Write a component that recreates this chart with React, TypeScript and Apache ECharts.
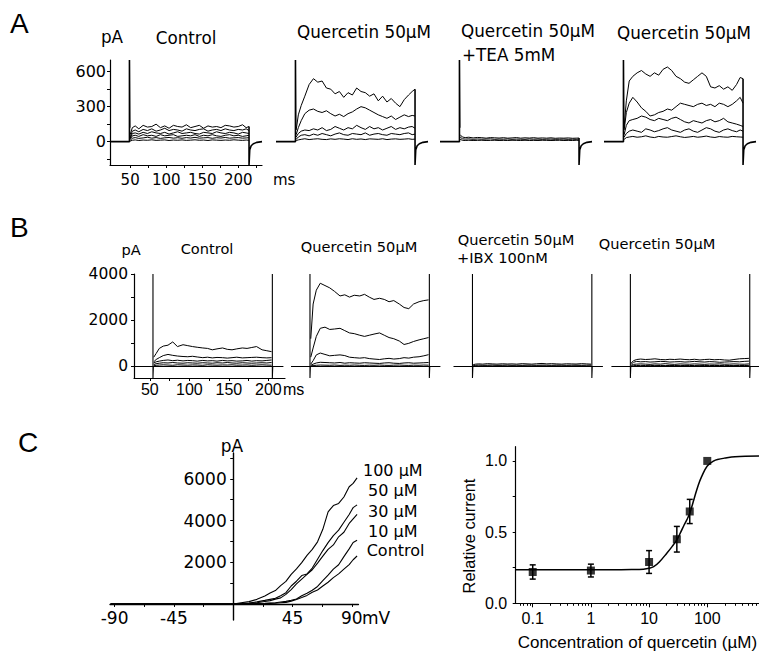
import React, { useEffect, useRef } from 'react';
import * as echarts from 'echarts';

// ---------- Panel A : currents (pA) vs time (ms) ----------
const TA = [50, 53, 57, 62, 68, 74, 80, 86, 92, 98, 104, 110, 116, 122, 128, 134, 140, 146, 152, 158, 164, 170, 176, 182, 188, 194, 200, 206, 211, 215];
const A_FRAME_T = [22, 49, 49, 49.5];
const A_FRAME_V = [0, 0, 700, 120];
const A_TAIL_T = [215, 216, 218, 221, 226, 233];
const A_TAIL_V = [-200, -70, -35, -18, -6, 0];

const A_CONTROL = [
  [60, 120, 135, 110, 140, 125, 130, 150, 120, 135, 115, 140, 130, 125, 145, 120, 130, 140, 115, 135, 125, 130, 120, 140, 135, 125, 130, 145, 120, 130],
  [40, 90, 100, 85, 105, 95, 110, 90, 100, 115, 95, 105, 100, 90, 110, 100, 95, 105, 110, 90, 100, 105, 95, 110, 100, 95, 105, 100, 110, 95],
  [30, 70, 75, 65, 80, 70, 85, 75, 70, 80, 65, 75, 85, 70, 75, 80, 70, 65, 80, 75, 70, 85, 75, 70, 80, 75, 65, 80, 75, 70],
  [20, 50, 55, 45, 60, 50, 55, 45, 60, 50, 55, 60, 45, 50, 55, 50, 60, 45, 55, 50, 60, 50, 45, 55, 60, 50, 55, 45, 50, 55],
  [10, 30, 35, 28, 32, 38, 30, 35, 28, 33, 36, 30, 34, 29, 35, 31, 37, 30, 33, 35, 29, 34, 31, 36, 30, 33, 35, 30, 32, 34],
  [5, 12, 15, 10, 14, 12, 16, 11, 13, 15, 10, 14, 12, 15, 11, 13, 16, 12, 14, 10, 15, 13, 11, 14, 12, 16, 13, 11, 14, 12],
];
const A_QUER_1 = [
  [100, 230, 310, 390, 490, 540, 510, 520, 460, 450, 410, 430, 380, 420, 400, 460, 430, 420, 390, 410, 350, 390, 340, 370, 330, 300, 360, 400, 430, 450],
  [60, 120, 180, 240, 270, 280, 260, 250, 265, 240, 220, 235, 215, 240, 255, 280, 300, 290, 270, 250, 230, 215, 200, 220, 190, 210, 230, 215, 225, 220],
  [40, 70, 90, 100, 95, 110, 100, 120, 95, 105, 130, 115, 100, 120, 110, 140, 120, 105, 130, 110, 120, 100, 115, 130, 105, 120, 110, 125, 130, 115],
  [20, 40, 55, 60, 50, 65, 55, 70, 60, 50, 65, 75, 60, 55, 70, 65, 60, 75, 55, 65, 70, 60, 55, 70, 65, 60, 70, 75, 60, 65],
  [10, 15, 20, 25, 18, 22, 25, 20, 18, 24, 20, 25, 22, 18, 25, 20, 23, 18, 24, 22, 20, 25, 18, 22, 24, 20, 22, 25, 20, 22],
];
const A_TEA = [
  [60, 40, 35, 38, 32, 36, 34, 30, 35, 33, 31, 34, 30, 32, 35, 30, 33, 31, 34, 30, 32, 30, 33, 29, 31, 30, 32, 29, 30, 31],
  [40, 25, 22, 24, 20, 23, 21, 22, 24, 20, 22, 21, 23, 20, 22, 21, 20, 23, 21, 22, 20, 21, 22, 20, 21, 22, 20, 21, 20, 22],
  [20, 12, 10, 12, 10, 11, 12, 10, 11, 12, 10, 11, 10, 12, 11, 10, 12, 10, 11, 10, 12, 11, 10, 11, 12, 10, 11, 10, 12, 11],
];
const A_QUER_2 = [
  [130, 350, 520, 560, 590, 610, 580, 560, 590, 570, 620, 640, 610, 560, 540, 510, 500, 530, 560, 590, 560, 470, 460, 480, 450, 470, 440, 490, 550, 540],
  [100, 250, 330, 380, 340, 290, 260, 220, 230, 250, 260, 280, 270, 300, 330, 320, 310, 300, 320, 330, 310, 320, 300, 330, 320, 300, 320, 350, 380, 330],
  [60, 140, 180, 190, 200, 220, 210, 190, 180, 200, 190, 180, 200, 210, 190, 170, 160, 180, 170, 160, 180, 190, 170, 180, 200, 170, 160, 150, 140, 130],
  [40, 70, 90, 100, 90, 80, 110, 100, 85, 95, 110, 120, 100, 90, 80, 100, 110, 90, 80, 100, 120, 110, 90, 80, 100, 110, 95, 85, 100, 90],
  [20, 35, 40, 45, 38, 42, 50, 40, 35, 45, 40, 38, 44, 50, 42, 36, 40, 45, 38, 42, 48, 40, 36, 44, 40, 38, 45, 42, 40, 38],
];
const A_X_LABELS = [50, 100, 150, 200];
const A_X_TICKS = [50, 75, 100, 125, 150, 175, 200, 225];
const A_Y_LABELS = [0, 300, 600];
const A_Y_TICKS = [-150, 0, 150, 300, 450, 600];

// ---------- Panel B ----------
const TB = [55, 58, 62, 67, 73, 79, 85, 92, 98, 104, 110, 117, 123, 129, 135, 142, 148, 154, 160, 167, 173, 179, 185, 192, 198, 204];
const B_FRAME_T = [30, 54, 54, 54, 54.5, 205, 205, 205, 205.5, 219];
const B_FRAME_V = [0, 0, 4000, -500, 0, 0, 4000, -500, 0, 0];
const B_CONTROL = [
  [400, 560, 780, 880, 920, 1060, 860, 940, 900, 860, 830, 800, 780, 720, 760, 800, 740, 720, 760, 800, 780, 820, 860, 720, 680, 640],
  [200, 300, 380, 470, 520, 480, 450, 430, 420, 440, 410, 380, 400, 370, 390, 380, 360, 380, 400, 370, 380, 390, 400, 380, 370, 380],
  [150, 200, 230, 260, 280, 250, 270, 240, 260, 250, 230, 260, 240, 250, 230, 260, 240, 250, 230, 240, 260, 230, 250, 240, 260, 280],
  [80, 120, 140, 160, 150, 170, 150, 140, 160, 150, 140, 160, 150, 140, 160, 150, 170, 150, 140, 160, 150, 140, 150, 160, 150, 170],
  [30, 50, 60, 70, 60, 50, 70, 60, 55, 65, 60, 50, 70, 60, 55, 65, 60, 70, 55, 60, 65, 50, 60, 70, 60, 55],
];
const B_QUER_1 = [
  [1200, 2700, 3300, 3600, 3500, 3400, 3250, 3050, 3100, 3000, 3080, 3050, 3120, 3000, 2900, 2950, 2900, 2800, 2850, 2700, 2550, 2500, 2700, 2800, 2850, 2880],
  [400, 800, 1300, 1650, 1700, 1600, 1620, 1650, 1550, 1450, 1420, 1350, 1300, 1350, 1400, 1450, 1350, 1250, 1200, 1100, 950, 1000, 1080, 1150, 1200, 1250],
  [100, 250, 500, 580, 520, 460, 480, 500, 470, 400, 380, 360, 380, 340, 320, 300, 330, 350, 320, 340, 380, 360, 400, 420, 460, 510],
  [50, 100, 150, 180, 170, 160, 150, 170, 140, 160, 150, 140, 160, 150, 140, 130, 150, 160, 140, 130, 150, 160, 140, 150, 160, 170],
  [20, 40, 50, 60, 55, 50, 60, 45, 55, 50, 60, 50, 45, 55, 50, 60, 50, 45, 55, 60, 50, 45, 55, 50, 60, 55],
];
const B_IBX = [
  [80, 100, 110, 100, 120, 110, 100, 115, 105, 110, 100, 120, 110, 100, 115, 130, 110, 120, 110, 100, 115, 110, 105, 120, 110, 100],
  [40, 50, 60, 50, 55, 60, 50, 55, 60, 50, 55, 50, 60, 55, 50, 60, 55, 50, 60, 55, 50, 55, 60, 50, 55, 60],
  [10, 20, 15, 20, 25, 15, 20, 25, 15, 20, 15, 25, 20, 15, 20, 25, 15, 20, 25, 15, 20, 15, 25, 20, 15, 20],
];
const B_QUER_2 = [
  [150, 250, 300, 320, 300, 310, 330, 300, 290, 310, 300, 320, 300, 290, 310, 280, 300, 310, 290, 300, 280, 270, 300, 330, 340, 350],
  [100, 180, 220, 200, 210, 190, 200, 220, 210, 190, 200, 210, 190, 200, 220, 200, 190, 210, 200, 180, 190, 200, 210, 200, 220, 230],
  [50, 90, 100, 110, 100, 90, 110, 100, 120, 100, 90, 110, 100, 95, 110, 100, 90, 105, 100, 110, 95, 100, 110, 100, 95, 110],
  [20, 35, 40, 45, 40, 35, 45, 40, 38, 42, 40, 45, 38, 40, 42, 45, 40, 38, 42, 40, 45, 40, 38, 42, 40, 45],
];
const B_X_LABELS = [50, 100, 150, 200];
const B_X_TICKS = [50, 75, 100, 125, 150, 175, 200];
const B_Y_LABELS = [0, 2000, 4000];
const B_Y_TICKS = [0, 1000, 2000, 3000, 4000];

// ---------- Panel C left : I-V curves ----------
const VC = [-93, -60, -30, 0, 6, 12, 18, 24, 28, 32, 36, 40, 44, 48, 52, 56, 60, 64, 68, 72, 76, 80, 84, 88, 91, 94];
const I_100 = [0, 10, -10, 0, 60, 110, 220, 380, 520, 640, 880, 1080, 1420, 1680, 1980, 2330, 2620, 2980, 3580, 4420, 4720, 4820, 5130, 5620, 5780, 6050];
const I_50 = [0, -10, 10, 0, 20, 40, 100, 170, 220, 270, 390, 540, 860, 1090, 1360, 1440, 1720, 2140, 2560, 2940, 3280, 3540, 3920, 4290, 4620, 4750];
const I_30 = [0, 0, -10, 0, 10, 30, 60, 120, 160, 230, 290, 460, 690, 960, 1190, 1420, 1640, 1960, 2290, 2620, 2830, 3220, 3440, 3860, 4080, 4300];
const I_10 = [0, 10, 0, 0, 5, 10, 20, 30, 45, 55, 95, 125, 180, 240, 390, 510, 660, 840, 1120, 1380, 1670, 1880, 2270, 2640, 2950, 3050];
const I_CTRL = [0, 0, 10, 0, 5, 8, 12, 20, 28, 32, 55, 75, 135, 215, 310, 410, 560, 670, 860, 1040, 1260, 1440, 1670, 1890, 2120, 2300];
const IV_LABELS = ['100 µM', '50 µM', '30 µM', '10 µM', 'Control'];
const C1_X_LABELS = [-90, -45, 45, 90];
const C1_X_TICKS = [-90, -67.5, -45, -22.5, 22.5, 45, 67.5, 90];
const C1_Y_LABELS = [2000, 4000, 6000];
const C1_Y_TICKS = [1000, 2000, 3000, 4000, 5000, 6000, 7000];

// ---------- Panel C right : dose-response ----------
const CONC = [0.1, 1, 10, 30, 50, 100];
const REL = [0.22, 0.23, 0.29, 0.45, 0.645, 1.0];
const ERR = [0.05, 0.045, 0.08, 0.09, 0.085, 0];
const FIT_X = [0.051, 0.1, 0.3, 1, 3, 5, 8, 10, 12, 15, 20, 25, 30, 35, 40, 45, 50, 60, 70, 80, 100, 130, 150, 200, 300, 800];
const FIT_Y = [0.235, 0.235, 0.235, 0.235, 0.236, 0.237, 0.24, 0.246, 0.257, 0.29, 0.35, 0.40, 0.445, 0.50, 0.55, 0.59, 0.632, 0.74, 0.83, 0.89, 0.965, 1.0, 1.01, 1.02, 1.03, 1.035];
const C2_X_LABELS = [0.1, 1, 10, 100];
const C2_X_MINOR = [0.06, 0.07, 0.08, 0.09, 0.2, 0.3, 0.4, 0.5, 0.6, 0.7, 0.8, 0.9, 2, 3, 4, 5, 6, 7, 8, 9, 20, 30, 40, 50, 60, 70, 80, 90, 200, 300, 400, 500, 600, 700];
const C2_Y_LABELS = [0, 0.5, 1.0];
const C2_Y_TICKS = [0, 0.25, 0.5, 0.75, 1.0];

const BLACK = '#000';
const DJ = 'DejaVu Sans';
const LS = 'Liberation Sans';

function lineSeries(axisIndex: number, data: number[][], width = 1, smooth: boolean | number = false) {
  return {
    type: 'line',
    xAxisIndex: axisIndex,
    yAxisIndex: axisIndex,
    data,
    symbol: 'none',
    showSymbol: false,
    smooth,
    silent: true,
    lineStyle: { color: BLACK, width },
    z: 3,
  };
}

function zip(t: number[], v: number[]) {
  return t.map((x, i) => [x, v[i]]);
}

function txt(text: string, x: number, y: number, family: string, size: number, align = 'center', rotation = 0) {
  return {
    type: 'text',
    x,
    y,
    rotation,
    silent: true,
    style: { text, fill: BLACK, fontFamily: family, fontSize: size, align, verticalAlign: 'middle' },
  };
}

const plain = (v: number) => String(v);

function visibleAxis(grid: number, min: number, max: number, ticks: number[], labels: number[], family: string, size: number, margin: number, extra: any = {}) {
  return {
    type: 'value',
    gridIndex: grid,
    min,
    max,
    axisLine: { show: true, onZero: false, lineStyle: { color: BLACK, width: 1.2 } },
    axisTick: { show: true, customValues: ticks, length: 3, lineStyle: { color: BLACK, width: 1 } },
    axisLabel: { show: true, customValues: labels, color: BLACK, fontFamily: family, fontSize: size, margin, formatter: plain },
    splitLine: { show: false },
    ...extra,
  };
}

function hiddenAxis(grid: number, min: number, max: number) {
  return { type: 'value', gridIndex: grid, min, max, show: false, splitLine: { show: false } };
}

export default function App() {
  const ref = useRef<HTMLDivElement>(null);

  useEffect(() => {
    if (!ref.current) return;
    const chart = echarts.init(ref.current, undefined, { renderer: 'svg' });

    const A_LEFTS = [110, 276, 440, 604];
    const B_LEFTS = [134, 291, 453.5, 611.4];
    const grids: any[] = [];
    A_LEFTS.forEach((l) => grids.push({ left: l, top: 60, width: 152, height: 105 }));
    B_LEFTS.forEach((l) => grids.push({ left: l, top: 274, width: 151, height: 104 }));
    grids.push({ left: 110, top: 453, width: 248.4, height: 167 });
    grids.push({ left: 515.7, top: 446.7, width: 243.3, height: 156.6 });
    grids.forEach((g) => {
      g.containLabel = false;
      g.outerBoundsMode = 'none';
      g.show = false;
    });

    const xAxes: any[] = [];
    const yAxes: any[] = [];
    for (let k = 0; k < 4; k++) {
      if (k === 0) {
        xAxes.push(visibleAxis(0, 22, 233, A_X_TICKS, A_X_LABELS, DJ, 15, 7));
        yAxes.push(visibleAxis(0, -200, 700, A_Y_TICKS, A_Y_LABELS, DJ, 16, 4));
      } else {
        xAxes.push(hiddenAxis(k, 22, 233));
        yAxes.push(hiddenAxis(k, -200, 700));
      }
    }
    for (let k = 0; k < 4; k++) {
      if (k === 0) {
        xAxes.push(visibleAxis(4, 30, 221, B_X_TICKS, B_X_LABELS, LS, 16, 3));
        yAxes.push(visibleAxis(4, -500, 4000, B_Y_TICKS, B_Y_LABELS, DJ, 15.5, 6));
      } else {
        xAxes.push(hiddenAxis(4 + k, 30, 221));
        yAxes.push(hiddenAxis(4 + k, -500, 4000));
      }
    }
    // C1 : axes crossing at the origin (placed there by offset from the grid edges)
    const c1XMin = -93.5, c1XMax = 95, c1YMin = -770, c1YMax = 7240;
    const c1Left = 110, c1Top = 453, c1W = 248.4, c1H = 167;
    const zeroX = c1Left + ((0 - c1XMin) / (c1XMax - c1XMin)) * c1W;
    const zeroY = c1Top + ((c1YMax - 0) / (c1YMax - c1YMin)) * c1H;
    xAxes.push(visibleAxis(8, c1XMin, c1XMax, C1_X_TICKS, C1_X_LABELS, DJ, 17, 6, {
      position: 'bottom',
      offset: -(c1Top + c1H - zeroY),
      axisLine: { show: true, onZero: false, lineStyle: { color: BLACK, width: 1.4 } },
    }));
    yAxes.push(visibleAxis(8, c1YMin, c1YMax, C1_Y_TICKS, C1_Y_LABELS, DJ, 17, 6.5, {
      position: 'left',
      offset: -(zeroX - c1Left),
      axisLine: { show: true, onZero: false, lineStyle: { color: BLACK, width: 1.4 } },
    }));
    // C2 (log10 of concentration on a value axis)
    const lg = (v: number) => Math.log10(v);
    const c2Min = lg(0.051);
    const c2Max = lg(775);
    xAxes.push(visibleAxis(9, c2Min, c2Max, C2_X_LABELS.map(lg), C2_X_LABELS.map(lg), LS, 16, 7, {
      position: 'bottom',
      axisTick: { show: true, customValues: C2_X_LABELS.map(lg), length: 4, lineStyle: { color: BLACK, width: 1 } },
      axisLabel: {
        show: true,
        customValues: C2_X_LABELS.map(lg),
        color: BLACK,
        fontFamily: LS,
        fontSize: 16,
        margin: 7,
        formatter: (v: number) => {
          const i = C2_X_LABELS.findIndex((c) => Math.abs(lg(c) - v) < 1e-6);
          return i >= 0 ? String(C2_X_LABELS[i]) : '';
        },
      },
      name: 'Concentration of quercetin (µM)',
      nameLocation: 'middle',
      nameGap: 31,
      nameTextStyle: { color: BLACK, fontFamily: LS, fontSize: 17 },
    }));
    xAxes.push({
      type: 'value',
      gridIndex: 9,
      position: 'bottom',
      min: c2Min,
      max: c2Max,
      axisLine: { show: false, onZero: false },
      axisTick: { show: true, customValues: C2_X_MINOR.map(lg), length: 2.5, lineStyle: { color: BLACK, width: 1 } },
      axisLabel: { show: false },
      splitLine: { show: false },
    });
    yAxes.push(visibleAxis(9, 0, 1.1, C2_Y_TICKS, C2_Y_LABELS, LS, 16, 8.5, {
      axisLabel: {
        show: true,
        customValues: C2_Y_LABELS,
        color: BLACK,
        fontFamily: LS,
        fontSize: 16,
        margin: 8.5,
        formatter: (v: number) => v.toFixed(1),
      },
    }));

    const series: any[] = [];
    const aSets = [A_CONTROL, A_QUER_1, A_TEA, A_QUER_2];
    aSets.forEach((set, k) => {
      series.push(lineSeries(k, zip(A_FRAME_T, A_FRAME_V), 1.6));
      set.forEach((tr) => series.push(lineSeries(k, zip(TA, tr), 1)));
      const top = set[0][set[0].length - 1];
      series.push(lineSeries(k, [[A_TAIL_T[0], top], ...zip(A_TAIL_T, A_TAIL_V)], 1.6));
    });
    const bSets = [B_CONTROL, B_QUER_1, B_IBX, B_QUER_2];
    bSets.forEach((set, k) => {
      series.push(lineSeries(4 + k, zip(B_FRAME_T, B_FRAME_V), 1.1));
      set.forEach((tr) => series.push(lineSeries(4 + k, zip(TB, tr), 1)));
    });
    [I_100, I_50, I_30, I_10, I_CTRL].forEach((cur) => series.push(lineSeries(8, zip(VC, cur), 1.1)));

    // C2: fit, error bars, points
    series.push(lineSeries(9, FIT_X.map((x, i) => [lg(x), FIT_Y[i]]), 1.5, 0.35));
    series.push({
      type: 'custom',
      xAxisIndex: 9,
      yAxisIndex: 9,
      silent: true,
      z: 4,
      data: CONC.map((c, i) => [lg(c), REL[i] - ERR[i], REL[i] + ERR[i]]).filter((_, i) => ERR[i] > 0),
      encode: { x: 0, y: [1, 2] },
      renderItem: (params: any, api: any) => {
        const x = api.value(0);
        const p1 = api.coord([x, api.value(1)]);
        const p2 = api.coord([x, api.value(2)]);
        const w = 3;
        const st = { stroke: BLACK, lineWidth: 1.5 };
        return {
          type: 'group',
          children: [
            { type: 'line', shape: { x1: p1[0], y1: p1[1], x2: p2[0], y2: p2[1] }, style: st },
            { type: 'line', shape: { x1: p1[0] - w, y1: p1[1], x2: p1[0] + w, y2: p1[1] }, style: st },
            { type: 'line', shape: { x1: p2[0] - w, y1: p2[1], x2: p2[0] + w, y2: p2[1] }, style: st },
          ],
        };
      },
    });
    series.push({
      type: 'scatter',
      xAxisIndex: 9,
      yAxisIndex: 9,
      symbol: 'rect',
      symbolSize: 8,
      silent: true,
      z: 5,
      itemStyle: { color: BLACK },
      data: CONC.map((c, i) => [lg(c), REL[i]]),
    });

    const graphic: any[] = [
      txt('A', 10, 23, LS, 28, 'left'),
      txt('B', 10, 227.5, LS, 28, 'left'),
      txt('C', 18, 442.5, LS, 28, 'left'),
      txt('pA', 112, 37, DJ, 16.8),
      txt('Control', 186, 38, DJ, 16.8),
      txt('Quercetin 50µM', 364, 32, DJ, 16.8),
      txt('Quercetin 50µM', 528, 31, DJ, 16.8),
      txt('+TEA 5mM', 462, 55, DJ, 16.8, 'left'),
      txt('Quercetin 50µM', 684, 33, DJ, 16.8),
      txt('ms', 273, 180, DJ, 15, 'left'),
      txt('pA', 131, 249, DJ, 14.6),
      txt('Control', 207, 248, DJ, 14.6),
      txt('Quercetin 50µM', 359, 246, DJ, 14.6),
      txt('Quercetin 50µM', 516, 239, DJ, 14.6),
      txt('+IBX 100nM', 457, 257, DJ, 14.6, 'left'),
      txt('Quercetin 50µM', 657, 243, DJ, 14.6),
      txt('ms', 283, 389, LS, 16, 'left'),
      txt('pA', 232, 446, DJ, 17),
      txt('mV', 362, 618, DJ, 17, 'left'),
      txt(IV_LABELS[0], 363, 470, DJ, 16, 'left'),
      txt(IV_LABELS[1], 368, 490.5, DJ, 16, 'left'),
      txt(IV_LABELS[2], 368, 511, DJ, 16, 'left'),
      txt(IV_LABELS[3], 368, 531, DJ, 16, 'left'),
      txt(IV_LABELS[4], 366.7, 550, DJ, 16, 'left'),
      txt('Relative current', 469, 536, LS, 16.4, 'center', Math.PI / 2),
    ];

    chart.setOption({
      animation: false,
      backgroundColor: '#fff',
      textStyle: { fontFamily: LS, color: BLACK },
      grid: grids,
      xAxis: xAxes,
      yAxis: yAxes,
      series,
      graphic,
    });

    return () => chart.dispose();
  }, []);

  return (
    <div
      ref={ref}
      style={{ position: 'fixed', left: 0, top: 0, width: 759, height: 653, background: '#fff' }}
    />
  );
}
